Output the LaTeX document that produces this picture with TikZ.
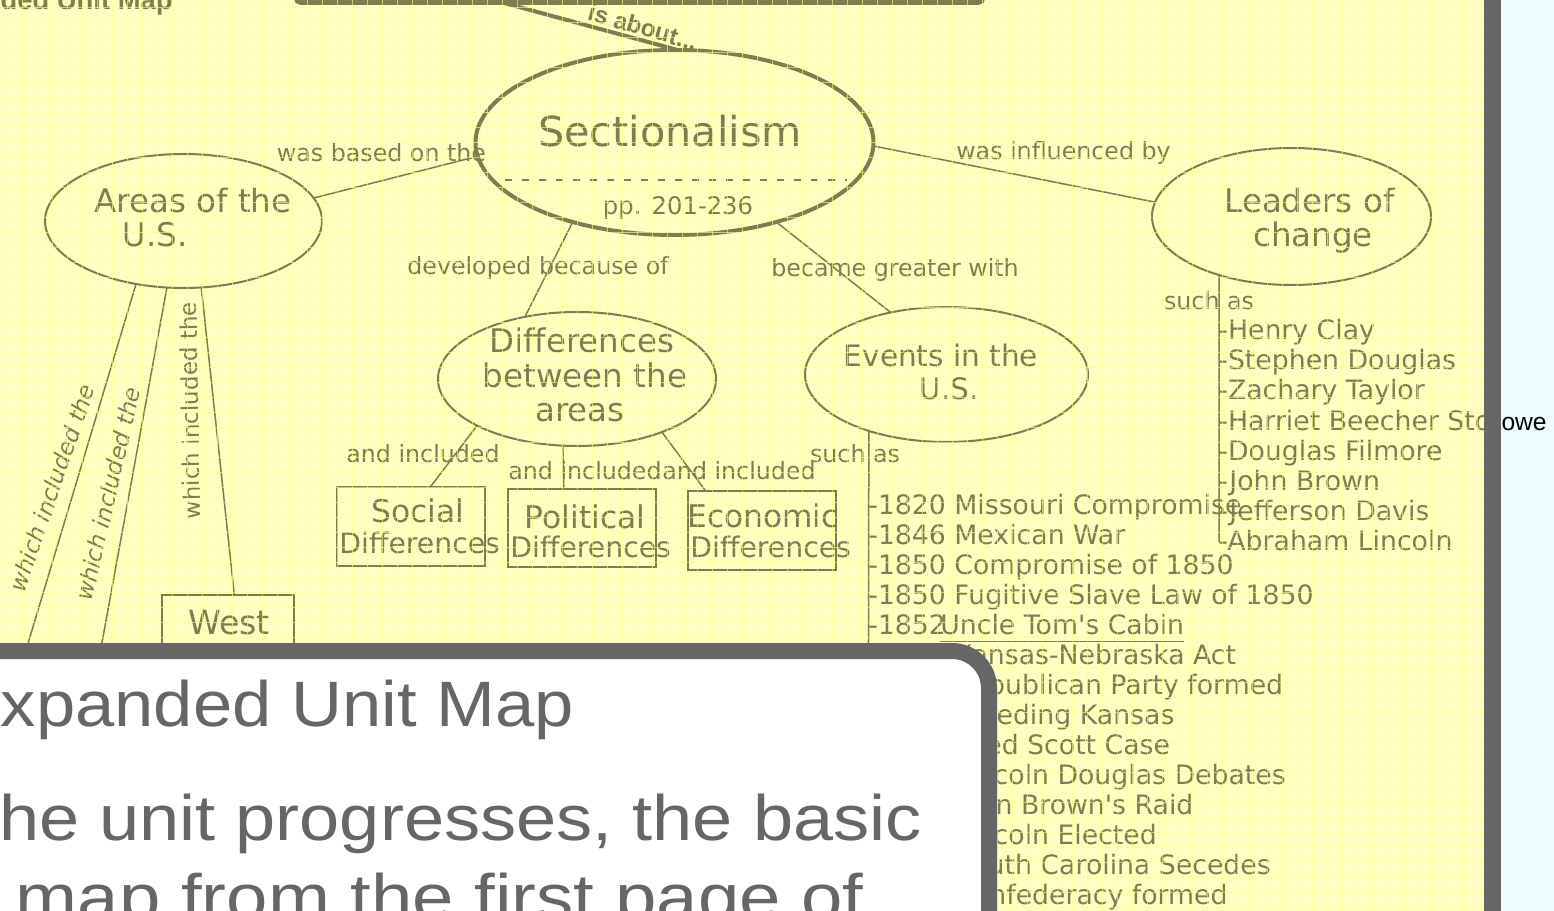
\documentclass[tikz,border=0pt]{standalone}
\usepackage{fontspec}
\setmainfont{DejaVu Sans}
\newfontfamily\ovfont{Liberation Sans}[FakeStretch=1.1]
\newfontfamily\ovwidefont{Liberation Sans}[FakeStretch=1.125]
\newfontfamily\ovwiderfont{Liberation Sans}[FakeStretch=1.16]
\newfontfamily\hdfont{Liberation Sans}
\usetikzlibrary{shapes.geometric}

\definecolor{ink}{HTML}{7F7D4F}
\definecolor{paper}{HTML}{FFFFC2}
\definecolor{gridyel}{HTML}{FFFF8A}
\definecolor{slate}{HTML}{666666}
\definecolor{mist}{HTML}{EEFCFF}

\tikzset{
  concept/.style={ellipse, draw=ink, line width=0.4mm, inner sep=0pt, outer sep=0pt},
  diffbox/.style={rectangle, draw=ink, line width=0.4mm, inner sep=0pt, outer sep=0pt},
  link/.style={draw=ink, line width=0.3mm},
  lbl/.style={text=ink, inner sep=0pt, anchor=base, font=\fontsize{13.5}{16}\selectfont},
  ctext/.style={text=ink, inner sep=0pt, anchor=base, font=\fontsize{18.5}{22}\selectfont},
  boxtext/.style={text=ink, inner sep=0pt, font=\fontsize{16.1}{19}\selectfont},
  listitem/.style={text=ink, inner sep=0pt, anchor=base west, font=\fontsize{15.2}{18}\selectfont},
  gridline/.style={draw=gridyel, line width=0.15mm, opacity=0.6},
  ovtext/.style={text=slate, inner sep=0pt, anchor=base east, font=\ovfont\fontsize{36.5}{44}\selectfont},
}

\begin{document}
\begin{tikzpicture}[x=0.2mm, y=-0.2mm]
\useasboundingbox (0,0) rectangle (1554,911);
\clip (0,0) rectangle (1554,911);
% Map sheet
\begin{scope}
\clip (0,0) rectangle (1484,911);
\fill[paper] (0,0) rectangle (1484,911);
\node[text=ink, inner sep=0pt, anchor=base east, font=\hdfont\bfseries\fontsize{15.6}{18}\selectfont] (maphead) at (173,10) {Expanded Unit Map};
% Title box and its link
\node[draw=ink, line width=1mm, rounded corners=1mm, minimum width=137.4mm, minimum height=17mm] (title) at (639.5,-40) {};
\coordinate (abouttop) at (493,0);
% Concepts
\node[concept, line width=0.8mm, minimum width=79.6mm, minimum height=37mm] (secz) at (674.5,142.5) {};
\node[ctext, font=\fontsize{23.5}{28}\selectfont] (secztxt) at (670,147) {Sectionalism};
\draw[ink, line width=0.3mm, dash pattern=on 1.4mm off 2mm] (505,180) -- (847,180);
\node[ctext, font=\fontsize{13.8}{16}\selectfont] (pages) at (678,215) {pp. 201-236};
\node[concept, minimum width=55.4mm, minimum height=26.8mm] (areas) at (183.5,221) {};
\node[ctext] (areasA) at (193,213) {Areas of the};
\node[ctext] (areasB) at (155,247) {U.S.};
\node[concept, minimum width=55.8mm, minimum height=27.4mm] (leaders) at (1291.5,216.5) {};
\node[ctext] (leadersA) at (1309.5,213) {Leaders of};
\node[ctext] (leadersB) at (1313,247) {change};
\node[concept, minimum width=55.6mm, minimum height=26.8mm] (diff) at (577,379) {};
\node[ctext] (diffA) at (582,353) {Differences};
\node[ctext] (diffB) at (585,388) {between the};
\node[ctext] (diffC) at (580,422) {areas};
\node[concept, minimum width=56.6mm, minimum height=27mm] (events) at (946.5,374.5) {};
\node[ctext, font=\fontsize{16.8}{20}\selectfont] (eventsA) at (941,367) {Events in the};
\node[ctext, font=\fontsize{16.8}{20}\selectfont] (eventsB) at (949,400) {U.S.};
% Kinds of differences
\node[diffbox, minimum width=29.6mm, minimum height=15.8mm] (social) at (411,526.5) {};
\node[boxtext, anchor=base, font=\fontsize{17.8}{21}\selectfont] (socialA) at (418,522) {Social};
\node[boxtext, anchor=base west] (socialB) at (339,553) {Differences};
\node[diffbox, minimum width=29.6mm, minimum height=15.6mm] (political) at (582,528) {};
\node[boxtext, anchor=base, font=\fontsize{17.8}{21}\selectfont] (politicalA) at (585,528) {Political};
\node[boxtext, anchor=base west] (politicalB) at (510,557) {Differences};
\node[diffbox, minimum width=29.6mm, minimum height=15.8mm] (economic) at (762,530.5) {};
\node[boxtext, anchor=base, font=\fontsize{17.8}{21}\selectfont] (economicA) at (763,527) {Economic};
\node[boxtext, anchor=base west] (economicB) at (690,557) {Differences};
\node[diffbox, minimum width=26.4mm, minimum height=18mm] (west) at (228,640) {};
\node[boxtext, anchor=base, font=\fontsize{18.9}{22}\selectfont] (westA) at (229,634) {West};
% Links
\draw[ink, line width=0.8mm] (abouttop) -- (secz.88);
\node[text=ink, inner sep=0pt, rotate=-16, font=\hdfont\bfseries\fontsize{13.7}{16}\selectfont] (about) at (643,27) {is about...};
\draw[link] (areas.10) -- (secz.184);
\draw[link] (secz.-1) -- (leaders.174);
\draw[link] (secz.-142) -- (diff.130);
\draw[link] (secz.-38.5) -- (events.132);
\draw[link] (diff.-155) -- (social.64);
\draw[link] (diff.-102) -- (political.115);
\draw[link] (diff.-32) -- (economic.145);
\coordinate (southend) at (11,700);
\coordinate (midend) at (91.5,700);
\draw[link] (areas.-127.4) -- (southend);
\draw[link] (areas.-104.9) -- (midend);
\draw[link] (areas.-75.1) -- (west.82);
\coordinate (evend) at (868,930);
\coordinate (ldrend) at (1219,542);
\draw[link] (events.-144.4) -- (evend);
\draw[link] (leaders.-141.1) -- (ldrend);
% Link words
\node[lbl] (lbBased) at (381.5,162) {was based on the};
\node[lbl] (lbInfl) at (1063.5,160) {was influenced by};
\node[lbl] (lbDev) at (538,275) {developed because of};
\node[lbl] (lbGreat) at (895,277) {became greater with};
\node[lbl] (lbSoc) at (423,462) {and included};
\node[lbl] (lbPol) at (585,479) {and included};
\node[lbl] (lbEco) at (739,479) {and included};
\node[lbl] (lbLdr) at (1209,310) {such as};
\node[lbl] (lbEvt) at (855,462) {such as};
\node[lbl, anchor=center, rotate=71, font=\itshape\fontsize{13.1}{16}\selectfont] (lbInc1) at (52,488) {which included the};
\node[lbl, anchor=center, rotate=77, font=\itshape\fontsize{13.1}{16}\selectfont] (lbInc2) at (108,494) {which included the};
\node[lbl, anchor=center, rotate=91, font=\fontsize{13.1}{16}\selectfont] (lbInc3) at (190,411) {which included the};
% Leaders list
\foreach \ln [count=\i] in {Henry Clay, Stephen Douglas, Zachary Taylor, Harriet Beecher Stowe, Douglas Filmore, John Brown, Jefferson Davis, Abraham Lincoln}
  \node[listitem] (ldr\i) at (1218,310+30*\i) {-\ln};
% Events list
\foreach \ev [count=\i] in {1820 Missouri Compromise, 1846 Mexican War, 1850 Compromise of 1850, 1850 Fugitive Slave Law of 1850}
  \node[listitem] (evt\i) at (868,484+30*\i) {-\ev};
\node[listitem] (evt5) at (868,634) {-1852};
\node[listitem] (uncle) at (940,634) {Uncle Tom\textquotesingle s Cabin};
\draw[ink, line width=0.3mm] ([yshift=-1.5mm]uncle.base west) -- ([yshift=-1.5mm]uncle.base east);
\foreach \ev [count=\i from 6] in {1854 Kansas-Nebraska Act, 1854 Republican Party formed, 1856 Bleeding Kansas, 1857 Dred Scott Case, 1858 Lincoln Douglas Debates, 1859 John Brown\textquotesingle s Raid, 1860 Lincoln Elected, 1860 South Carolina Secedes, 1861 Confederacy formed}
  \node[listitem] (evt\i) at (868,484+30*\i) {-\ev};
% Grid over the sheet
\foreach \gx in {7,22,...,1484} \draw[gridline] (\gx,0) -- (\gx,911);
\foreach \gy in {7,22,...,911} \draw[gridline] (0,\gy) -- (1484,\gy);
\end{scope}
% Frame bar and side panel
\fill[slate] (1484,0) rectangle (1501,911);
\fill[mist] (1501,0) rectangle (1554,911);
\begin{scope}
\clip (1501,0) rectangle (1554,911);
\node[inner sep=0pt, anchor=base east, text=black, font=\hdfont\fontsize{14}{16}\selectfont] (stowe) at (1547,430) {Harriet Beecher Stowe};
\end{scope}
% Slide box
\draw[draw=slate, fill=white, line width=3.2mm, rounded corners=7.4mm] (-60,651) rectangle (989,1000);
\node[ovtext] (ovtitle) at (574,726) {Expanded Unit Map};
\node[ovtext, font=\ovwidefont\fontsize{36.5}{44}\selectfont] (ovlineA) at (922,840) {As the unit progresses, the basic};
\node[ovtext, font=\ovwiderfont\fontsize{36.5}{44}\selectfont] (ovlineB) at (864,919) {unit map from the first page of};
\end{tikzpicture}
\end{document}
